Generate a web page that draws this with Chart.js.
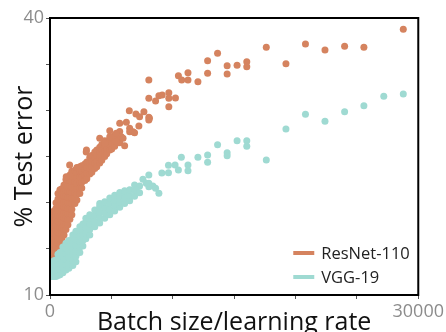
<!DOCTYPE html>
<html>
<head>
<meta charset="utf-8">
<script src="https://cdn.jsdelivr.net/npm/chart.js@4.4.1/dist/chart.umd.min.js"></script>
<style>
  html, body { margin: 0; padding: 0; background: #fff; }
  #wrap { width: 446px; height: 332px; }
</style>
</head>
<body>
<div id="wrap"><canvas id="chart" width="446" height="332"></canvas></div>
<script>
// values: [batch size / learning rate, % test error]
const seriesNames = ['ResNet-110', 'VGG-19'];
const seriesColors = ['#d5835f', '#9fdad2'];

const resnetPoints = [
  // dense part of the cloud
  [80,12.5],[80,13.1],[80,13.7],[80,14.3],[80,14.9],[80,15.5],[80,16.1],[80,16.7],[80,17.3],[80,17.9],[80,18.5],
  [320,13.7],[320,14.3],[320,14.9],[320,15.5],[320,16.1],[320,16.7],[320,17.3],[320,17.9],[320,18.5],[320,19.1],
  [490,14.6],[490,15.2],[490,15.8],[490,16.4],[490,17.0],[490,17.6],[490,18.2],[490,18.8],[490,19.4],[490,20.0],
  [650,15.0],[650,15.6],[650,16.2],[650,16.8],[650,17.4],[650,18.0],[650,18.6],[650,19.2],[650,19.8],[650,20.4],[650,21.0],
  [810,15.5],[810,16.1],[810,16.7],[810,17.3],[810,17.9],[810,18.5],[810,19.1],[810,19.7],[810,20.3],[810,20.9],[810,21.4],
  [970,16.1],[970,16.7],[970,17.3],[970,17.9],[970,18.5],[970,19.1],[970,19.7],[970,20.3],[970,20.9],[970,21.5],
  [1140,16.5],[1140,17.1],[1140,17.7],[1140,18.3],[1140,18.9],[1140,19.5],[1140,20.1],[1140,20.7],[1140,21.3],[1140,21.9],
  [1300,17.1],[1300,17.7],[1300,18.3],[1300,18.9],[1300,19.5],[1300,20.1],[1300,20.7],[1300,21.3],[1300,21.9],[1300,22.5],
  [1460,17.6],[1460,18.2],[1460,18.8],[1460,19.4],[1460,20.0],[1460,20.6],[1460,21.2],[1460,21.8],[1460,22.4],
  [1620,18.2],[1620,18.8],[1620,19.4],[1620,20.0],[1620,20.6],[1620,21.2],[1620,21.8],[1620,22.4],[1620,23.0],
  [1780,18.7],[1780,19.3],[1780,19.9],[1780,20.5],[1780,21.1],[1780,21.7],[1780,22.3],[1780,22.9],[1780,23.4],
  [2030,19.9],[2030,20.5],[2030,21.1],[2030,21.7],[2030,22.3],[2030,22.9],[2030,23.5],
  [2190,20.3],[2190,20.9],[2190,21.5],[2190,22.1],[2190,22.7],[2190,23.3],[2190,23.8],
  [2430,21.0],[2430,21.6],[2430,22.2],[2430,22.8],[2430,23.4],[2430,23.9],
  [2590,21.6],[2590,22.2],[2590,22.8],[2590,23.4],[2590,24.0],
  [2840,22.4],[2840,23.0],[2840,23.6],[2840,24.2],
  [3000,22.6],[3000,23.2],[3000,23.8],[3000,24.4],
  [3240,23.1],[3240,23.7],[3240,24.3],[3240,24.9],
  [3410,23.3],[3410,23.9],[3410,24.5],[3410,25.1],
  [3650,23.7],[3650,24.3],[3650,24.9],[3650,25.5],
  [3810,23.9],[3810,24.5],[3810,25.1],[3810,25.7],
  [4050,24.3],[4050,24.9],[4050,25.5],[4050,26.0],
  [4220,24.6],[4220,25.2],[4220,25.8],[4220,26.3],
  [4460,25.0],[4460,25.6],[4460,26.2],[4460,26.7],
  [4620,25.3],[4620,25.9],[4620,26.5],
  [4870,25.7],[4870,26.3],[4870,26.9],
  [5030,25.8],[5030,26.4],[5030,27.0],
  [5270,26.1],[5270,26.7],[5270,27.3],
  [5680,26.5],[5680,27.1],[5680,27.7],
  // loose points
  [1320,22.8],[1600,24.08],[2950,25.5],[2970,25.7],
  [4050,26.97],[4460,26.43],[4870,27.8],[4870,27.15],[5400,27.51],[5400,26.6],
  [5680,28.6],[5810,27.15],[5950,26.97],[6080,26.17],[6220,28.7],
  [6460,29.96],[6490,28.05],[6490,27.69],[6760,27.69],[6890,27.58],[7000,29.6],
  [7240,28.3],[7300,29.31],[7650,29.85],[8100,29.14],
  [8050,33.29],[8050,31.3],[8050,29.25],[8050,28.95],[8600,31.01],[8870,31.59],
  [9140,31.66],[9680,31.91],[9680,31.3],[9680,30.39],[10220,31.34],
  [10460,33.75],[10730,33.29],[11240,34.08],[11240,33.29],[12050,33.1],
  [12840,35.38],[12840,34.01],[13650,36.18],[14430,34.84],[14430,33.94],
  [15240,34.88],[16030,35.27],[16030,34.73],[17620,36.83],[19220,35.05],
  [20810,37.19],[22400,36.54],[24000,36.94],[25570,36.83],[28780,38.78]
];

const vggPoints = [
  // dense part of the cloud
  [160,12.0],[160,12.6],[160,13.2],
  [320,12.0],[320,12.6],[320,13.2],[320,13.7],
  [490,12.0],[490,12.6],[490,13.2],[490,13.8],
  [650,12.1],[650,12.7],[650,13.3],[650,13.9],[650,14.4],
  [810,12.2],[810,12.8],[810,13.4],[810,14.0],[810,14.6],
  [1050,12.4],[1050,13.0],[1050,13.6],[1050,14.2],[1050,14.8],[1050,15.2],
  [1300,12.7],[1300,13.3],[1300,13.9],[1300,14.5],[1300,15.1],[1300,15.6],
  [1540,12.9],[1540,13.5],[1540,14.1],[1540,14.7],[1540,15.3],[1540,15.9],
  [1860,13.2],[1860,13.8],[1860,14.4],[1860,15.0],[1860,15.6],[1860,16.2],[1860,16.5],
  [2110,13.6],[2110,14.2],[2110,14.8],[2110,15.4],[2110,16.0],[2110,16.6],[2110,16.9],
  [2430,14.6],[2430,15.2],[2430,15.8],[2430,16.4],[2430,17.0],[2430,17.4],
  [2680,15.3],[2680,15.9],[2680,16.5],[2680,17.1],[2680,17.7],
  [2920,16.1],[2920,16.7],[2920,17.3],[2920,17.9],[2920,18.3],
  [3240,16.5],[3240,17.1],[3240,17.7],[3240,18.3],[3240,18.7],
  [3650,17.4],[3650,18.0],[3650,18.6],[3650,19.2],
  [4050,17.8],[4050,18.4],[4050,19.0],[4050,19.6],[4050,19.9],
  [4460,18.3],[4460,18.9],[4460,19.5],[4460,20.1],
  [4870,18.7],[4870,19.3],[4870,19.9],[4870,20.5],
  [5270,19.1],[5270,19.7],[5270,20.3],[5270,20.8],
  [5680,19.5],[5680,20.1],[5680,20.7],[5680,21.1],
  [6080,19.9],[6080,20.5],[6080,21.1],[6080,21.3],
  [6490,20.2],[6490,20.8],[6490,21.4],
  [6890,20.7],[6890,21.3],[6890,21.9],
  // loose points
  [7300,21.8],[7030,21.37],[7300,21.08],[7570,22.53],[7840,22.09],[8050,23.0],
  [8050,22.09],[8050,21.73],[8380,21.8],[8600,21.56],[8870,21.01],[9110,23.21],
  [9650,24.05],[9650,23.25],[10190,24.08],[10460,23.54],[10700,24.91],
  [11240,24.08],[11240,23.47],[12050,24.91],[12840,25.16],[12840,24.37],
  [13650,26.28],[14430,25.41],[14430,25.09],[15240,26.71],[16030,26.71],
  [16030,26.1],[17620,24.62],[19220,27.98],[20810,29.57],[22400,28.81],
  [24000,29.85],[25570,30.5],[27190,31.52],[28780,31.77]
];

const xTickLabels = [0, 30000];
const yTickLabels = [10, 40];

const FONT = '"Open Sans", "Noto Sans", sans-serif';

const toXY = pts => pts.map(p => ({ x: p[0], y: p[1] }));

// black box round the plot area + legend in the lower right corner
const framePlugin = {
  id: 'frame',
  afterDraw(chart) {
    const { ctx, chartArea } = chart;
    ctx.save();
    ctx.strokeStyle = '#000';
    ctx.lineWidth = 2;
    ctx.strokeRect(chartArea.left, chartArea.top, chartArea.right - chartArea.left, chartArea.bottom - chartArea.top);

    ctx.font = '16.5px ' + FONT;
    ctx.textBaseline = 'middle';
    const x0 = chartArea.right - 125;
    seriesNames.forEach((name, i) => {
      const y = chartArea.bottom - 42 + i * 24;
      ctx.strokeStyle = seriesColors[i];
      ctx.lineWidth = 4;
      ctx.beginPath();
      ctx.moveTo(x0, y);
      ctx.lineTo(x0 + 21, y);
      ctx.stroke();
      ctx.fillStyle = '#222';
      ctx.fillText(name, x0 + 28, y + 1);
    });
    ctx.restore();
  }
};

function axis(min, max, step, labels, title, titlePad) {
  return {
    type: 'linear',
    min: min,
    max: max,
    ticks: {
      stepSize: step,
      autoSkip: false,
      maxRotation: 0,
      color: '#8c8c8c',
      font: { family: FONT, size: 18 },
      padding: 2,
      callback: v => labels.includes(v) ? String(v) : ''
    },
    grid: { drawOnChartArea: false, tickLength: 4, color: '#555' },
    border: { color: '#000', width: 2 },
    title: {
      display: true,
      text: title,
      color: '#111',
      font: { family: FONT, size: 25 },
      padding: titlePad
    }
  };
}

const xAxis = axis(0, 30000, 5000, xTickLabels, 'Batch size/learning rate', { top: 0, bottom: -6 });
xAxis.afterFit = s => { s.height = 37; };
const yAxis = axis(10, 40, 5, yTickLabels, '% Test error', { top: 10, bottom: 0 });
yAxis.afterFit = s => { s.width = 50; };

new Chart(document.getElementById('chart'), {
  type: 'scatter',
  data: {
    datasets: [
      {
        label: seriesNames[1],
        data: toXY(vggPoints),
        backgroundColor: seriesColors[1],
        borderWidth: 0,
        pointRadius: 3.5
      },
      {
        label: seriesNames[0],
        data: toXY(resnetPoints),
        backgroundColor: seriesColors[0],
        borderWidth: 0,
        pointRadius: 3.5
      }
    ]
  },
  options: {
    responsive: false,
    animation: false,
    layout: { padding: { top: 18, right: 26, left: 0, bottom: 0 } },
    plugins: { legend: { display: false }, tooltip: { enabled: false } },
    scales: { x: xAxis, y: yAxis }
  },
  plugins: [framePlugin]
});
</script>
</body>
</html>
